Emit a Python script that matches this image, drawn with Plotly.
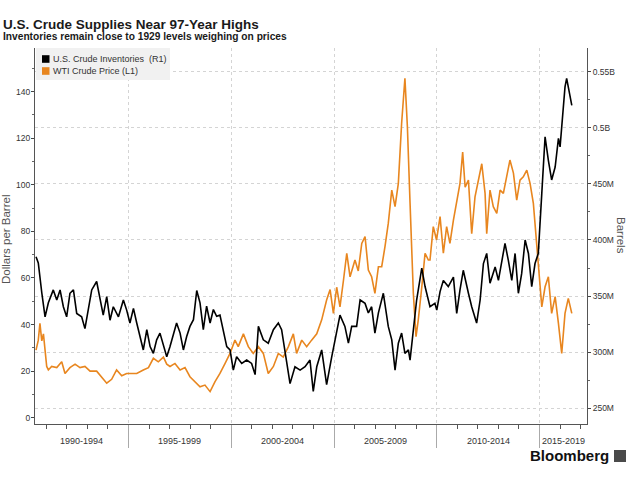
import plotly.graph_objects as go

# ---------------- data ----------------
inv_years = [1990.50, 1990.61, 1990.78, 1990.94, 1991.10, 1991.34, 1991.51, 1991.67, 1991.83, 1991.99,
             1992.15, 1992.32, 1992.48, 1992.72, 1992.88, 1993.05, 1993.21, 1993.45, 1993.61, 1993.77,
             1993.94, 1994.10, 1994.26, 1994.51, 1994.75, 1994.91, 1995.07, 1995.24, 1995.40, 1995.56,
             1995.72, 1995.89, 1996.05, 1996.21, 1996.37, 1996.53, 1996.70, 1996.86, 1997.02, 1997.34,
             1997.51, 1997.67, 1997.83, 1997.99, 1998.16, 1998.32, 1998.48, 1998.64, 1998.80, 1998.97,
             1999.13, 1999.29, 1999.45, 1999.62, 1999.78, 1999.94, 2000.10, 2000.26, 2000.51, 2000.75,
             2000.99, 2001.16, 2001.32, 2001.56, 2001.80, 2002.05, 2002.29, 2002.45, 2002.70, 2002.86,
             2003.10, 2003.35, 2003.59, 2003.83, 2003.99, 2004.16, 2004.40, 2004.64, 2004.89, 2005.13,
             2005.29, 2005.53, 2005.70, 2005.86, 2006.10, 2006.27, 2006.51, 2006.67, 2006.83, 2006.99,
             2007.16, 2007.40, 2007.64, 2007.81, 2007.97, 2008.13, 2008.29, 2008.45, 2008.62, 2008.70,
             2008.86, 2009.02, 2009.27, 2009.43, 2009.67, 2009.91, 2010.00, 2010.16, 2010.32, 2010.56,
             2010.81, 2010.97, 2011.13, 2011.29, 2011.54, 2011.70, 2011.94, 2012.11, 2012.27, 2012.43,
             2012.59, 2012.84, 2013.00, 2013.16, 2013.32, 2013.48, 2013.65, 2013.81, 2013.97, 2014.13,
             2014.30, 2014.46, 2014.62, 2014.78, 2014.94, 2015.11, 2015.27, 2015.43, 2015.59, 2015.76,
             2015.92, 2016.00, 2016.08, 2016.24, 2016.32, 2016.48, 2016.57]
inv_millions = [385, 379.5, 353, 331.5, 344, 355.5, 346.5, 355.5, 340.5, 331.5,
                352.5, 355.5, 334.5, 331.5, 321, 337.5, 355.5, 363, 346.5, 333,
                349.5, 328.5, 340.5, 331.5, 346.5, 337.5, 326, 339, 326, 314,
                302, 320, 305, 299, 311, 317, 305, 296, 305, 326,
                317, 302, 314, 323, 329, 355, 344, 320, 341, 326,
                338, 332, 333, 317, 305, 302, 284, 296, 290, 293,
                290, 280, 323, 311, 308, 320, 326, 320, 290, 272,
                287, 284, 287, 293, 265, 287, 302, 271, 296, 317,
                333, 323, 308, 323, 323, 346.5, 343.5, 335, 340.5, 317,
                335, 352.5, 323, 311, 284, 308, 317, 299, 302, 293,
                317, 346.5, 375, 358.5, 340.5, 343.5, 337.5, 354, 364, 358.5,
                367, 334.5, 355.5, 373, 352.5, 340.5, 326, 346.5, 379, 388,
                361.5, 376, 364, 382, 397, 382, 364, 388, 352.5, 370,
                400, 388, 358.5, 379, 388, 441.5, 492, 471, 453.5, 465,
                490.5, 483, 504, 536.5, 544, 527.5, 520]

price_years = [1990.50, 1990.61, 1990.69, 1990.78, 1990.86, 1990.94, 1991.02, 1991.10, 1991.26, 1991.51,
               1991.75, 1991.91, 1992.15, 1992.40, 1992.64, 1992.88, 1993.13, 1993.45, 1993.69, 1993.94,
               1994.18, 1994.42, 1994.67, 1994.91, 1995.15, 1995.40, 1995.72, 1995.97, 1996.21, 1996.45,
               1996.70, 1996.86, 1997.02, 1997.26, 1997.51, 1997.75, 1997.99, 1998.24, 1998.48, 1998.72,
               1998.97, 1999.21, 1999.45, 1999.70, 1999.94, 2000.18, 2000.34, 2000.59, 2000.83, 2001.07,
               2001.32, 2001.56, 2001.80, 2002.05, 2002.29, 2002.53, 2002.78, 2003.02, 2003.18, 2003.43,
               2003.67, 2003.91, 2004.16, 2004.40, 2004.64, 2004.81, 2004.97, 2005.13, 2005.29, 2005.46,
               2005.62, 2005.78, 2006.02, 2006.18, 2006.35, 2006.51, 2006.67, 2006.83, 2006.99, 2007.16,
               2007.32, 2007.48, 2007.64, 2007.81, 2007.97, 2008.13, 2008.29, 2008.45, 2008.57, 2008.70,
               2008.86, 2008.99, 2009.10, 2009.27, 2009.43, 2009.59, 2009.67, 2009.83, 2009.99, 2010.16,
               2010.32, 2010.48, 2010.64, 2010.81, 2010.97, 2011.13, 2011.26, 2011.38, 2011.54, 2011.70,
               2011.86, 2012.02, 2012.19, 2012.35, 2012.43, 2012.59, 2012.75, 2012.92, 2013.08, 2013.24,
               2013.40, 2013.56, 2013.73, 2013.89, 2014.05, 2014.21, 2014.38, 2014.54, 2014.70, 2014.86,
               2015.02, 2015.11, 2015.27, 2015.43, 2015.59, 2015.76, 2015.92, 2016.08, 2016.24, 2016.40,
               2016.57]
price_usd = [29, 33.3, 40.5, 33, 36, 29, 22, 20.5, 22, 21.5,
             24, 19, 21.5, 23, 21.5, 22, 20, 20, 17.6, 14.8,
             16.5, 20.5, 18, 19, 19, 19, 20.5, 21.5, 25.5, 24,
             26, 23, 22, 23.3, 20.5, 21.5, 17.6, 15.5, 13.3, 14,
             11.2, 15.5, 19, 23.3, 27.6, 33.3, 30.5, 36, 30.5, 27.6,
             30.5, 27.6, 19, 22, 27.6, 26, 30.5, 36, 27.6, 33.3,
             30.5, 33.3, 36, 42, 50.5, 55, 44.8, 56, 47.6, 59,
             70.6, 60.5, 67.7, 63, 74.8, 77.7, 63.4, 60.5, 53.4, 64.8,
             64.8, 73.4, 83.4, 97.7, 90.6, 100.6, 126.4, 145.7, 125, 92,
             53.4, 34.8, 42, 56, 70.6, 67.7, 67.7, 82, 76.3, 86.3,
             70.6, 82, 74.8, 84.8, 92, 100.6, 114, 99, 102, 79,
             94.8, 102, 109, 96.3, 79, 97.7, 90.6, 87.7, 97.7, 96.3,
             103.4, 110.6, 105, 93.4, 102, 103.4, 106.3, 100.6, 92, 74.8,
             60.5, 47.6, 56.2, 60.5, 44.8, 52, 40.5, 27.6, 44.8, 51.2,
             44.8]

left_ticks = [0, 20, 40, 60, 80, 100, 120, 140]
right_ticks = [250, 300, 350, 400, 450, 500, 550]
right_tick_labels = ["250M", "300M", "350M", "400M", "450M", "0.5B", "0.55B"]
period_starts = [1990, 1995, 2000, 2005, 2010, 2015]
period_labels = ["1990-1994", "1995-1999", "2000-2004", "2005-2009", "2010-2014", "2015-2019"]

# ---------------- layout helpers ----------------
W, H = 630, 482
L, R, T, B = 35, 587, 48, 424          # plot area in pixels
X_MIN, X_MAX = 1990.45, 2017.31
FONT = "Liberation Sans, Arial, sans-serif"

def px(x):
    return (x - L) / (R - L)

def py(y):
    return (B - y) / (B - T)

fig = go.Figure()
fig.add_trace(go.Scatter(x=inv_years, y=inv_millions, yaxis="y2", mode="lines",
                         line=dict(color="#000000", width=1.6), name="U.S. Crude Inventories  (R1)",
                         showlegend=False))
fig.add_trace(go.Scatter(x=price_years, y=price_usd, yaxis="y", mode="lines",
                         line=dict(color="#E8861F", width=1.6), name="WTI Crude Price (L1)",
                         showlegend=False))

annotations = []
shapes = []

# titles
annotations.append(dict(text="<b>U.S. Crude Supplies Near 97-Year Highs</b>", xref="paper", yref="paper",
                        x=px(1), y=py(24), xanchor="left", yanchor="middle", showarrow=False,
                        font=dict(family=FONT, size=13.5, color="#1a1a1a")))
annotations.append(dict(text="<b>Inventories remain close to 1929 levels weighing on prices</b>", xref="paper",
                        yref="paper", x=px(1), y=py(36.5), xanchor="left", yanchor="middle", showarrow=False,
                        font=dict(family=FONT, size=10.2, color="#1a1a1a")))

# legend box
shapes.append(dict(type="rect", xref="paper", yref="paper", x0=px(36), x1=px(170), y0=py(80), y1=py(48),
                   fillcolor="#f1f1f1", line=dict(width=0), layer="above"))
for cy, col, lab in [(59, "#000000", "U.S. Crude Inventories  (R1)"), (71, "#E8861F", "WTI Crude Price (L1)")]:
    shapes.append(dict(type="rect", xref="paper", yref="paper", x0=px(42), x1=px(49.5), y0=py(cy + 3.8),
                       y1=py(cy - 3.8), fillcolor=col, line=dict(width=0), layer="above"))
    annotations.append(dict(text=lab, xref="paper", yref="paper", x=px(51), y=py(cy), xanchor="left",
                            yanchor="middle", showarrow=False, font=dict(family=FONT, size=9, color="#333")))

# axis titles
annotations.append(dict(text="Dollars per Barrel", xref="paper", yref="paper", x=px(6), y=py(240),
                        xanchor="center", yanchor="middle", textangle=-90, showarrow=False,
                        font=dict(family=FONT, size=11.5, color="#555")))
annotations.append(dict(text="Barrels", xref="paper", yref="paper", x=px(621), y=py(235),
                        xanchor="center", yanchor="middle", textangle=90, showarrow=False,
                        font=dict(family=FONT, size=11.5, color="#555")))

# period labels
for i, (start, lab) in enumerate(zip(period_starts, period_labels)):
    a = max(start, X_MIN)
    b = min(start + 5, X_MAX)
    annotations.append(dict(text=lab, xref="x", yref="paper", x=(a + b) / 2, y=py(441), xanchor="center",
                            yanchor="middle", showarrow=False, font=dict(family=FONT, size=9, color="#333")))

# Bloomberg logo
annotations.append(dict(text="<b>Bloomberg</b>", xref="paper", yref="paper", x=px(611), y=py(456),
                        xanchor="right", yanchor="middle", showarrow=False,
                        font=dict(family=FONT, size=15, color="#111")))
shapes.append(dict(type="rect", xref="paper", yref="paper", x0=px(614), x1=px(626), y0=py(462), y1=py(450),
                   fillcolor="#4a4a4a", line=dict(width=0)))

fig.update_layout(
    width=W, height=H,
    margin=dict(l=L, r=W - R, t=T, b=H - B, pad=0),
    paper_bgcolor="white", plot_bgcolor="white",
    font=dict(family=FONT, size=9, color="#333"),
    showlegend=False,
    annotations=annotations, shapes=shapes,
    xaxis=dict(range=[X_MIN, X_MAX], tickmode="array", tickvals=period_starts[1:], showticklabels=False,
               ticks="outside", ticklen=23, tickcolor="#aaa", tickwidth=1,
               showgrid=True, gridcolor="#d4d4d4", griddash="dot", gridwidth=1,
               showline=True, linecolor="#555", linewidth=1, zeroline=False,
               minor=dict(tickmode="linear", tick0=1990, dtick=1, ticks="outside", ticklen=4,
                          tickcolor="#555", showgrid=False)),
    yaxis=dict(range=[-2.7, 158.7], tickmode="array", tickvals=left_ticks, ticks="outside", ticklen=3,
               tickcolor="#444", showgrid=False, zeroline=False, showline=True, linecolor="#555",
               ticklabelstandoff=-1,
               tickfont=dict(size=8.5, color="#333"),
               minor=dict(tickmode="linear", tick0=0, dtick=10, ticks="outside", ticklen=2,
                          tickcolor="#666", showgrid=False)),
    yaxis2=dict(range=[236, 571.1], overlaying="y", side="right", tickmode="array", tickvals=right_ticks,
                ticktext=right_tick_labels, ticks="outside", ticklen=3, tickcolor="#444",
                showgrid=True, gridcolor="#d4d4d4", griddash="dot", gridwidth=1,
                zeroline=False, showline=True, linecolor="#555", tickfont=dict(size=8.5, color="#333"),
                minor=dict(tickmode="linear", tick0=250, dtick=25, ticks="outside", ticklen=2,
                           tickcolor="#666", showgrid=False)),
)

fig.write_html("out.html", config={"displayModeBar": False},
               post_script="document.body.style.margin='0px';document.body.style.overflow='hidden';")
